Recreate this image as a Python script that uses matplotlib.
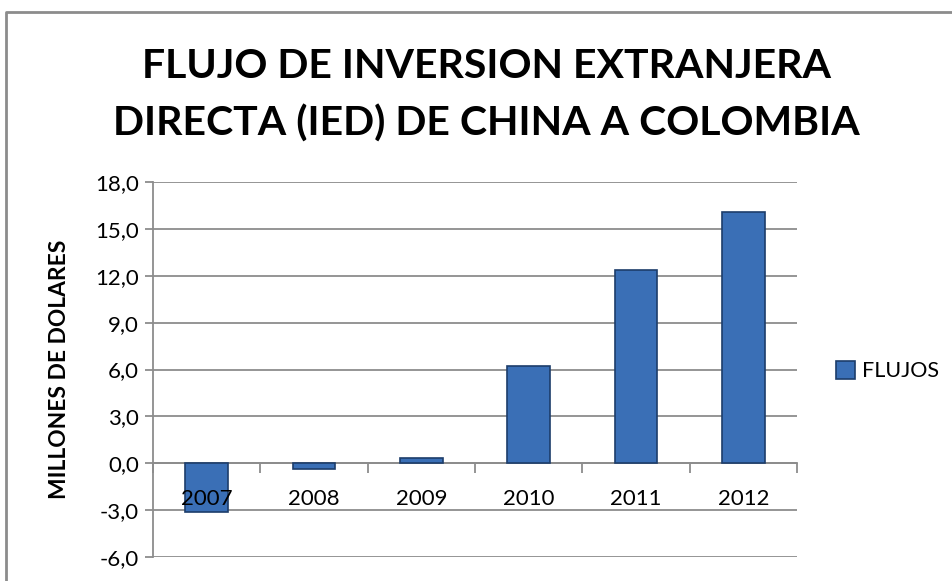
import numpy as np
import matplotlib.pyplot as plt
from matplotlib.lines import Line2D

# Datos
years = ['2007', '2008', '2009', '2010', '2011', '2012']
flujos = [-3.1, -0.35, 0.35, 6.2, 12.35, 16.1]
yticks = [-6, -3, 0, 3, 6, 9, 12, 15, 18]

plt.rcParams['font.family'] = ['Lato', 'DejaVu Sans']

fig = plt.figure(figsize=(9.53, 5.81), dpi=100)
ax = fig.add_axes([153 / 953, 24 / 581, 644 / 953, 375 / 581])

x = np.arange(len(years))
ax.bar(x, flujos, width=0.4, color='#3a6fb6', edgecolor='#1d3d6b',
       linewidth=1.2, label='FLUJOS', zorder=3)

ax.set_xlim(-0.5, len(years) - 0.5)
ax.set_ylim(-6, 18)
ax.set_yticks(yticks)
ax.set_yticklabels([('%.1f' % v).replace('.', ',') for v in yticks], fontsize=16)
ax.yaxis.grid(True, color='#8c8c8c', linewidth=1.3, zorder=0)
ax.tick_params(axis='y', length=6, color='#8c8c8c', width=1.3, pad=4)

# eje x en el cero, marcas entre categorias
ax.spines['bottom'].set_position(('data', 0))
ax.spines['bottom'].set_color('#8c8c8c')
ax.spines['bottom'].set_linewidth(1.3)
ax.spines['left'].set_color('#8c8c8c')
ax.spines['left'].set_linewidth(1.3)
ax.spines['top'].set_visible(False)
ax.spines['right'].set_visible(False)
ax.set_xticks(np.arange(len(years) + 1) - 0.5)
ax.set_xticklabels([])
ax.tick_params(axis='x', length=7, color='#8c8c8c', width=1.3)
for i, yr in enumerate(years):
    ax.text(i, -2.3, yr, ha='center', va='center', fontsize=16, zorder=4)

ax.set_ylabel('MILLONES DE DOLARES', fontsize=16.4, fontweight='bold', labelpad=18)

# titulo en dos lineas
fig.text(486 / 953, 1 - 78 / 581, 'FLUJO DE INVERSION EXTRANJERA',
         ha='center', va='baseline', fontsize=29.5, fontweight='bold')
fig.text(486 / 953, 1 - 136 / 581, 'DIRECTA (IED) DE CHINA A COLOMBIA',
         ha='center', va='baseline', fontsize=29.5, fontweight='bold')

fig.legend(loc='center left', bbox_to_anchor=(836 / 953, 1 - 371 / 581),
           frameon=False, fontsize=15.5, handlelength=0.9, handleheight=0.9,
           handletextpad=0.3, borderpad=0, borderaxespad=0)

# marco exterior (solo arriba e izquierda visibles)
fig.lines.append(Line2D([6 / 953, 6 / 953, 1], [0, 1 - 12 / 581, 1 - 12 / 581],
                        transform=fig.transFigure, color='#8c8c8c', linewidth=2))

fig.savefig('out.png', dpi=100)
